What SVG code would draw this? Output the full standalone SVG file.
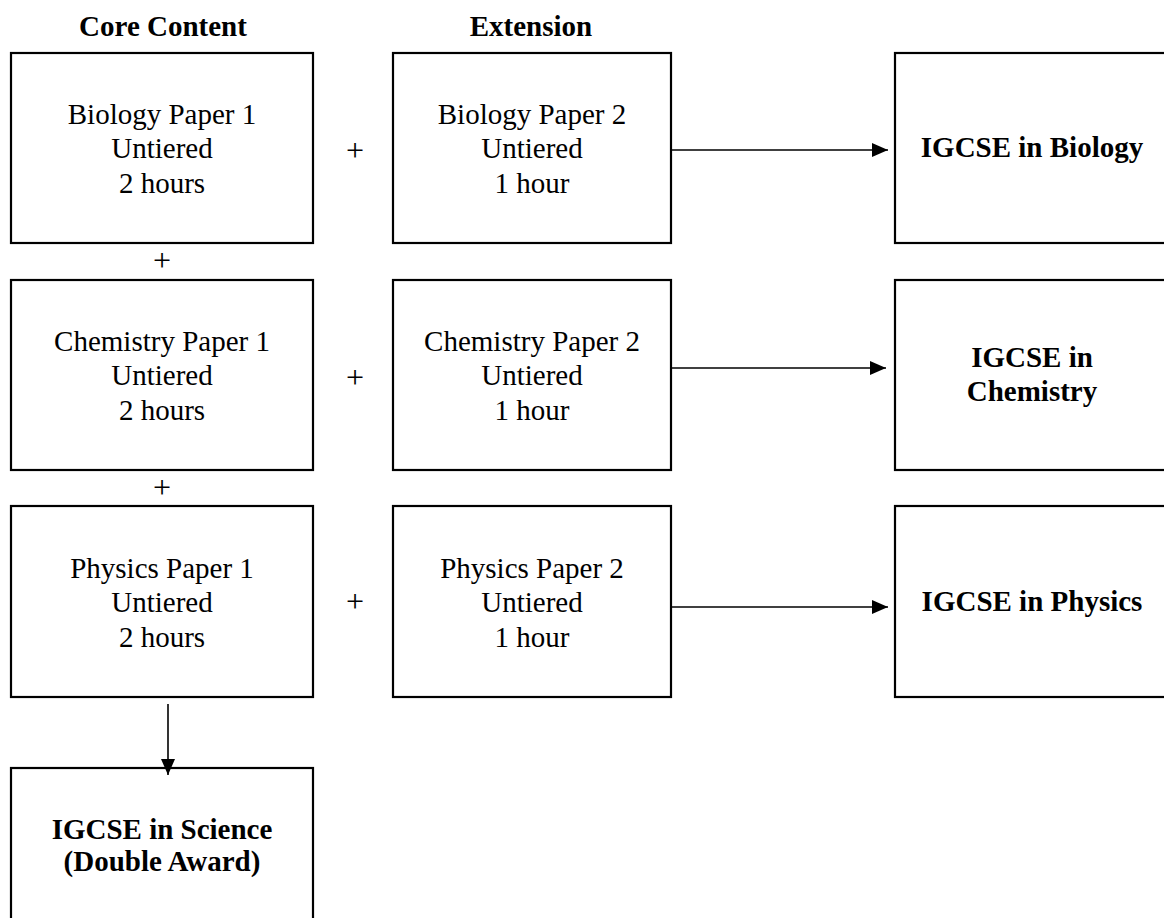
<svg xmlns="http://www.w3.org/2000/svg" width="1164" height="918" viewBox="0 0 1164 918">
<defs>
<style>
.box{fill:#fff;stroke:#000;stroke-width:2.2}
.t{font-family:"Liberation Serif","Times New Roman",serif;font-size:29px;fill:#000;text-anchor:middle}
.b{font-weight:bold;font-size:29px}
.p{font-size:32px}
.c{stroke:#000;stroke-width:1.6;fill:none;marker-end:url(#ah)}
</style>
<marker id="ah" markerUnits="userSpaceOnUse" markerWidth="17" markerHeight="14" refX="16" refY="7" orient="auto">
<path d="M0,0 L16,7 L0,14 z" fill="#000"/>
</marker>
</defs>
<rect width="1164" height="918" fill="#fff"/>
<g id="headings">
<text class="t b" x="163" y="36">Core Content</text>
<text class="t b" x="531" y="36">Extension</text>
</g>
<g id="bio1">
<rect class="box" x="11" y="53" width="302" height="190"/>
<text class="t" x="162" y="124">Biology Paper 1</text>
<text class="t" x="162" y="158">Untiered</text>
<text class="t" x="162" y="193">2 hours</text>
</g>
<g id="bio2">
<rect class="box" x="393" y="53" width="278" height="190"/>
<text class="t" x="532" y="124">Biology Paper 2</text>
<text class="t" x="532" y="158">Untiered</text>
<text class="t" x="532" y="193">1 hour</text>
</g>
<g id="igcse-bio">
<rect class="box" x="895" y="53" width="275" height="190"/>
<text class="t b" x="1032" y="157">IGCSE in Biology</text>
</g>
<g id="chem1">
<rect class="box" x="11" y="280" width="302" height="190"/>
<text class="t" x="162" y="351">Chemistry Paper 1</text>
<text class="t" x="162" y="385">Untiered</text>
<text class="t" x="162" y="420">2 hours</text>
</g>
<g id="chem2">
<rect class="box" x="393" y="280" width="278" height="190"/>
<text class="t" x="532" y="351">Chemistry Paper 2</text>
<text class="t" x="532" y="385">Untiered</text>
<text class="t" x="532" y="420">1 hour</text>
</g>
<g id="igcse-chem">
<rect class="box" x="895" y="280" width="275" height="190"/>
<text class="t b" x="1032" y="367">IGCSE in</text>
<text class="t b" x="1032" y="401">Chemistry</text>
</g>
<g id="phys1">
<rect class="box" x="11" y="506" width="302" height="191"/>
<text class="t" x="162" y="578">Physics Paper 1</text>
<text class="t" x="162" y="612">Untiered</text>
<text class="t" x="162" y="647">2 hours</text>
</g>
<g id="phys2">
<rect class="box" x="393" y="506" width="278" height="191"/>
<text class="t" x="532" y="578">Physics Paper 2</text>
<text class="t" x="532" y="612">Untiered</text>
<text class="t" x="532" y="647">1 hour</text>
</g>
<g id="igcse-phys">
<rect class="box" x="895" y="506" width="275" height="191"/>
<text class="t b" x="1032" y="611">IGCSE in Physics</text>
</g>
<g id="igcse-science">
<rect class="box" x="11" y="768" width="302" height="160"/>
<text class="t b" x="162" y="839">IGCSE in Science</text>
<text class="t b" x="162" y="871">(Double Award)</text>
</g>
<g id="plus-signs">
<text class="t p" x="355" y="161">+</text>
<text class="t p" x="355" y="388">+</text>
<text class="t p" x="355" y="612">+</text>
<text class="t p" x="162" y="271">+</text>
<text class="t p" x="162" y="498">+</text>
</g>
<g id="connectors">
<line class="c" x1="671" y1="150" x2="888" y2="150"/>
<line class="c" x1="670" y1="368" x2="886" y2="368"/>
<line class="c" x1="672" y1="607" x2="888" y2="607"/>
<line class="c" x1="168" y1="704" x2="168" y2="775"/>
</g>
</svg>
